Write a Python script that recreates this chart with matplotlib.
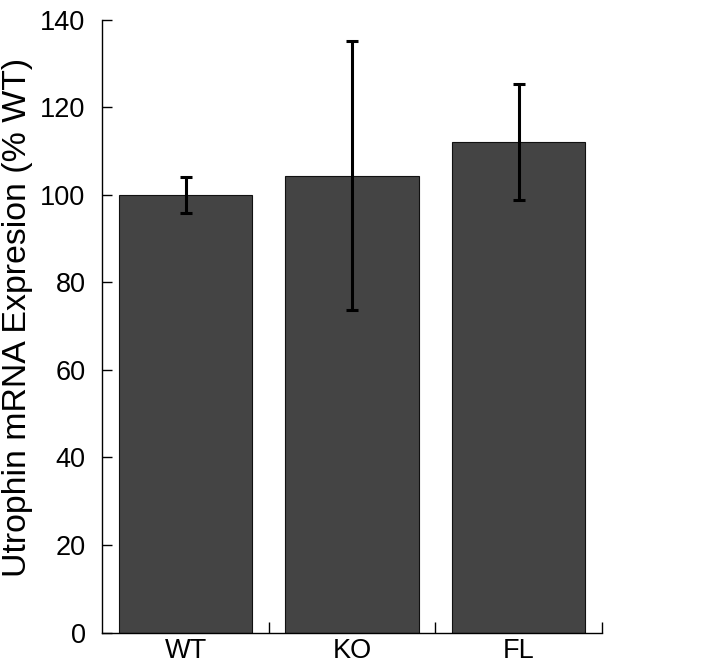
import numpy as np
import matplotlib
matplotlib.use('Agg')
import matplotlib.pyplot as plt

groups = ['WT', 'KO', 'FL']
expression = [100.0, 104.4, 112.1]
error = [4.2, 30.8, 13.2]

plt.rcParams['font.family'] = ['Liberation Sans', 'DejaVu Sans']
plt.rcParams['xtick.direction'] = 'in'
plt.rcParams['ytick.direction'] = 'in'

fig = plt.figure(figsize=(7.2, 6.63), dpi=100)
ax = fig.add_axes([0.142, 0.046, 0.694, 0.924])

x = np.arange(len(groups))
ax.bar(x, expression, width=0.8, color='#444444', edgecolor='#111111', linewidth=0.8,
       yerr=error, error_kw=dict(ecolor='black', elinewidth=2.2, capsize=4.3, capthick=2.2))

ax.set_xlim(-0.5, len(groups) - 0.5)
ax.set_ylim(0, 140)
ax.set_yticks(np.arange(0, 141, 20))
ax.set_xticks(x)
ax.set_xticklabels(groups)
ax.set_xticks(x + 0.5, minor=True)

ax.tick_params(axis='y', direction='in', length=7.5, width=1, labelsize=19.5, pad=12)
ax.tick_params(axis='x', which='major', length=0, labelsize=19.5, pad=4)
ax.tick_params(axis='x', which='minor', direction='in', length=8, width=1)

for side in ['top', 'right']:
    ax.spines[side].set_visible(False)
for side in ['left', 'bottom']:
    ax.spines[side].set_linewidth(1.0)

ax.set_ylabel('Utrophin mRNA Expresion (% WT)', fontsize=24.4, labelpad=5)
ax.yaxis.label.set_y(0.515)

fig.savefig('out.png', dpi=100)
